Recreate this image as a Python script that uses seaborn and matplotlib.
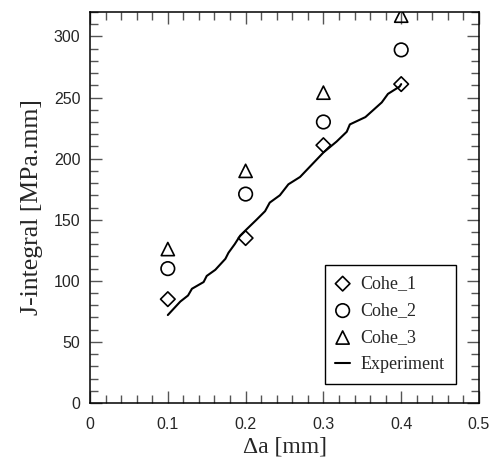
import numpy as np
import pandas as pd
import seaborn as sns
import matplotlib.pyplot as plt
from matplotlib.ticker import MultipleLocator

# crack growth positions of the cohesive results
da_cohe = [0.1, 0.2, 0.3, 0.4]
j_cohe1 = [85, 135, 211, 261]
j_cohe2 = [110, 171, 230, 289]
j_cohe3 = [126, 190, 254, 317]

da_exp = [0.100, 0.116, 0.126, 0.131, 0.146, 0.150, 0.161, 0.174, 0.178, 0.186,
          0.193, 0.201, 0.214, 0.225, 0.231, 0.244, 0.255, 0.270, 0.285, 0.300,
          0.317, 0.330, 0.334, 0.354, 0.375, 0.383, 0.398, 0.400]
j_exp = [72, 83, 88, 93.5, 99, 104, 109, 118, 123, 130,
         137, 142, 150, 157, 164, 170, 179, 185, 195, 205,
         214, 222, 228, 234, 246, 253, 259, 261]

sns.set_style("ticks")
plt.rcParams['font.family'] = ['Liberation Sans', 'DejaVu Sans']

fig = plt.figure(figsize=(4.93, 4.67), dpi=100)
ax = fig.add_axes([0.1826, 0.137, 0.7890, 0.8373])

exp = pd.DataFrame({'da': da_exp, 'J': j_exp})
sns.lineplot(data=exp, x='da', y='J', sort=False, estimator=None, color='black',
             linewidth=1.5, ax=ax, label='Experiment')

series = [('Cohe_1', j_cohe1, 'D', 55), ('Cohe_2', j_cohe2, 'o', 95), ('Cohe_3', j_cohe3, '^', 90)]
for name, vals, mk, size in series:
    sns.scatterplot(x=da_cohe, y=vals, marker=mk, s=size, facecolors='none',
                    edgecolors='black', linewidth=1.2, ax=ax, label=name, zorder=3)

ax.set_xlim(0, 0.5)
ax.set_ylim(0, 320)
ax.xaxis.set_major_locator(MultipleLocator(0.1))
ax.xaxis.set_minor_locator(MultipleLocator(0.02))
ax.yaxis.set_major_locator(MultipleLocator(50))
ax.yaxis.set_minor_locator(MultipleLocator(10))
ax.set_xticks([0, 0.1, 0.2, 0.3, 0.4, 0.5])
ax.set_xticklabels(['0', '0.1', '0.2', '0.3', '0.4', '0.5'])
ax.tick_params(which='both', direction='in', top=True, right=True, color='#555555',
               labelsize=11.5)
ax.tick_params(axis='x', which='major', pad=10)
ax.tick_params(axis='y', which='major', pad=7)
ax.tick_params(which='major', length=8.5, width=1)
ax.tick_params(which='minor', length=5.5, width=1)
for sp in ax.spines.values():
    sp.set_linewidth(1.1)
    sp.set_color('black')

ax.set_xlabel('\u0394a [mm]', family='Liberation Serif', fontsize=17, labelpad=3)
ax.set_ylabel('J-integral [MPa.mm]', family='Liberation Serif', fontsize=18.5, labelpad=8)

handles, labels = ax.get_legend_handles_labels()
order = [labels.index(n) for n in ['Cohe_1', 'Cohe_2', 'Cohe_3', 'Experiment']]
leg = ax.legend([handles[i] for i in order], [labels[i] for i in order],
                loc='lower right', bbox_to_anchor=(0.94, 0.0486), fancybox=False,
                edgecolor='black', framealpha=1, handlelength=0.8, handletextpad=0.6,
                borderpad=0.6, labelspacing=0.55, borderaxespad=0,
                prop={'family': 'Liberation Serif', 'size': 13})
leg.get_frame().set_linewidth(1.0)

fig.savefig('out.png', dpi=100)
